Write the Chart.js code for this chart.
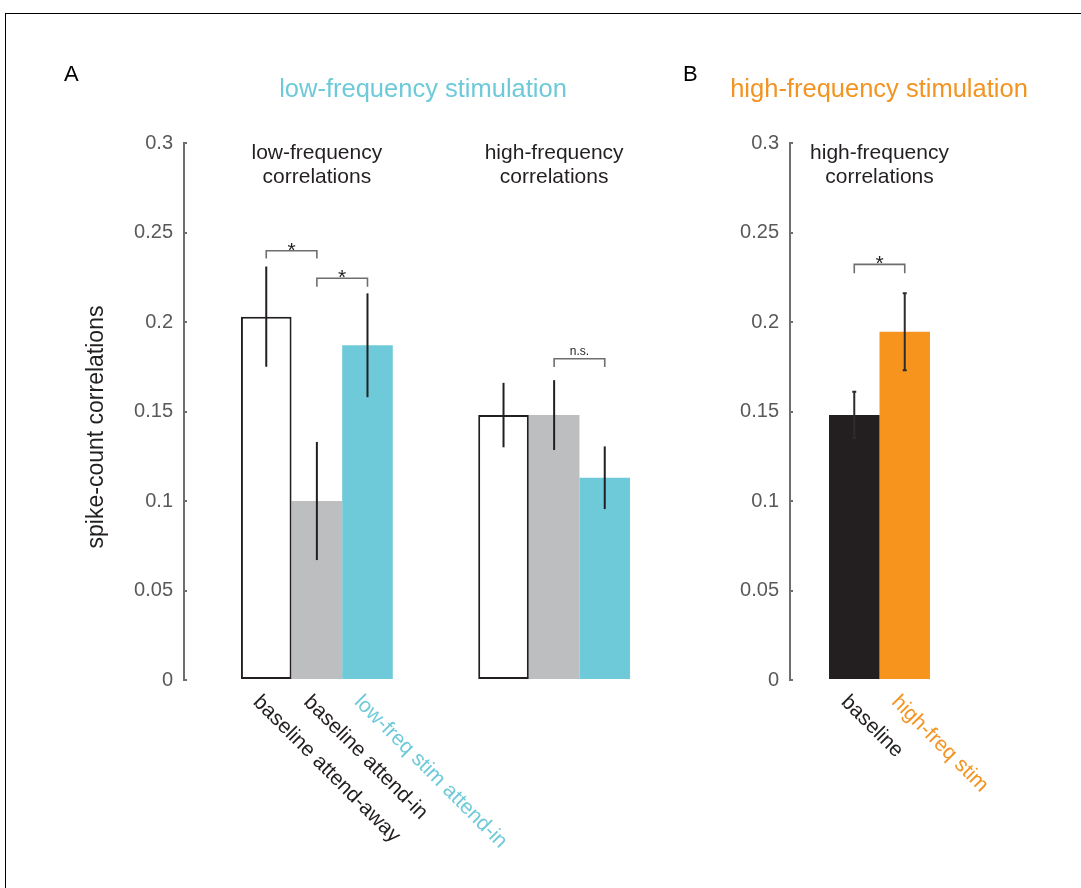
<!DOCTYPE html>
<html><head><meta charset="utf-8">
<script src="https://cdn.jsdelivr.net/npm/chart.js@4.4.0/dist/chart.umd.min.js"></script>
<style>
html,body{margin:0;padding:0;background:#fff;}
body{width:1081px;height:888px;position:relative;overflow:hidden;}
#frame{position:absolute;left:5px;top:13px;right:-2px;bottom:-2px;border-top:1px solid #000;border-left:1px solid #000;}
#ca{position:absolute;left:0;top:0;}
#cb{position:absolute;left:600px;top:0;}
</style></head><body>
<div id="frame"></div>
<canvas id="ca" width="687" height="888"></canvas>
<canvas id="cb" width="481" height="888"></canvas>
<script>
const FONT = '"Liberation Sans", Arial, Helvetica, sans-serif';
const INK = '#231F20';
const CYAN = '#6ECAD9';
const ORANGE = '#F39422';

// ---------- data ----------
const yTickLabels = ['0', '0.05', '0.1', '0.15', '0.2', '0.25', '0.3'];

// Panel A: low-frequency stimulation
const groupPositionsA = [1, 2];
const groupTitlesA = [['low-frequency', 'correlations'], ['high-frequency', 'correlations']];
const seriesNamesA = ['baseline attend-away', 'baseline attend-in', 'low-freq stim attend-in'];
const awayMeans = [0.203, 0.148];
const awayErr = [0.028, 0.018];
const attendInMeans = [0.100, 0.148];
const attendInErr = [0.033, 0.0195];
const stimMeans = [0.187, 0.113];
const stimErr = [0.029, 0.0175];
const sigA = [
  { from: 0, to: 1, group: 0, y: 0.2398, leg: 0.0043, text: '*' },
  { from: 1, to: 2, group: 0, y: 0.2244, leg: 0.0047, text: '*' },
  { from: 1, to: 2, group: 1, y: 0.1795, leg: 0.0046, text: 'n.s.' }
];

// Panel B: high-frequency stimulation
const groupLabelsB = ['high-frequency correlations'];
const groupTitlesB = [['high-frequency', 'correlations']];
const seriesNamesB = ['baseline', 'high-freq stim'];
const baselineMeansB = [0.148];
const baselineErrB = [0.013];
const hfStimMeansB = [0.1945];
const hfStimErrB = [0.0215];
const sigB = [
  { from: 0, to: 1, group: 0, y: 0.2322, leg: 0.005, text: '*' }
];

// ---------- helpers ----------
function annotPlugin(cfg) {
  return {
    id: 'annot',
    afterDatasetsDraw(chart) {
      const ctx = chart.ctx, ys = chart.scales.y;
      const val = v => (typeof v === 'object' ? v.y : v);
      ctx.save();
      // inward tick marks on the y axis
      ctx.strokeStyle = '#6D6E71';
      ctx.lineWidth = 2;
      ys.ticks.forEach(t => {
        const py = Math.round(ys.getPixelForValue(t.value));
        ctx.beginPath();
        ctx.moveTo(ys.right, py); ctx.lineTo(ys.right + 3, py);
        ctx.stroke();
      });
      // error bars
      chart.data.datasets.forEach((ds, i) => {
        const meta = chart.getDatasetMeta(i);
        meta.data.forEach((bar, j) => {
          const m = val(ds.data[j]), e = cfg.errors[i][j];
          const y1 = ys.getPixelForValue(m - e), y2 = ys.getPixelForValue(m + e);
          ctx.strokeStyle = cfg.errColor;
          ctx.lineWidth = 2;
          ctx.beginPath();
          ctx.moveTo(bar.x, y1); ctx.lineTo(bar.x, y2);
          if (cfg.cap) {
            ctx.moveTo(bar.x - cfg.cap, y1); ctx.lineTo(bar.x + cfg.cap, y1);
            ctx.moveTo(bar.x - cfg.cap, y2); ctx.lineTo(bar.x + cfg.cap, y2);
          }
          ctx.stroke();
        });
      });
      // significance brackets
      cfg.sig.forEach(s => {
        const xa = chart.getDatasetMeta(s.from).data[s.group].x;
        const xb = chart.getDatasetMeta(s.to).data[s.group].x;
        const yb = ys.getPixelForValue(s.y), yl = ys.getPixelForValue(s.y - s.leg);
        ctx.strokeStyle = '#6D6E71';
        ctx.lineWidth = 1.6;
        ctx.beginPath();
        ctx.moveTo(xa, yl); ctx.lineTo(xa, yb); ctx.lineTo(xb, yb); ctx.lineTo(xb, yl);
        ctx.stroke();
        ctx.fillStyle = INK;
        ctx.textAlign = 'center';
        ctx.textBaseline = 'alphabetic';
        if (s.text === '*') {
          ctx.font = '21px ' + FONT;
          ctx.fillText(s.text, (xa + xb) / 2, yb + 6);
        } else {
          ctx.font = '12px ' + FONT;
          ctx.fillText(s.text, (xa + xb) / 2, yb - 4);
        }
      });
      // group titles
      const n = chart.data.datasets.length;
      cfg.groupTitles.forEach((lines, g) => {
        const cx = (chart.getDatasetMeta(0).data[g].x + chart.getDatasetMeta(n - 1).data[g].x) / 2;
        ctx.fillStyle = INK;
        ctx.font = '21px ' + FONT;
        ctx.textAlign = 'center';
        ctx.textBaseline = 'alphabetic';
        lines.forEach((t, k) => ctx.fillText(t, cx, 159 + k * 24));
      });
      // rotated category labels under the first group
      chart.data.datasets.forEach((ds, i) => {
        const bar = chart.getDatasetMeta(i).data[0];
        ctx.save();
        ctx.translate(bar.x - 14, 703);
        ctx.rotate(Math.PI / 4);
        ctx.fillStyle = cfg.labelColors[i];
        ctx.font = '21px ' + FONT;
        ctx.textAlign = 'left';
        ctx.textBaseline = 'alphabetic';
        ctx.fillText(cfg.labels[i], 0, 0);
        ctx.restore();
      });
      // panel letter and heading
      ctx.fillStyle = '#000';
      ctx.font = '22px ' + FONT;
      ctx.textAlign = 'left';
      ctx.fillText(cfg.letter, cfg.letterX, 81);
      ctx.fillStyle = cfg.headingColor;
      ctx.font = '25.5px ' + FONT;
      ctx.textAlign = 'center';
      ctx.fillText(cfg.heading, cfg.headingX, 97);
      // y title
      if (cfg.yTitle) {
        ctx.save();
        ctx.translate(97, 427);
        ctx.rotate(-Math.PI / 2);
        ctx.fillStyle = INK;
        ctx.font = '23px ' + FONT;
        ctx.textAlign = 'center';
        ctx.textBaseline = 'middle';
        ctx.fillText(cfg.yTitle, 0, 0);
        ctx.restore();
      }
      ctx.restore();
    }
  };
}

function yScale(width) {
  return {
    min: 0, max: 0.3,
    afterFit: s => { s.width = width; },
    ticks: {
      stepSize: 0.05,
      color: '#58595B',
      font: { family: FONT, size: 20 },
      padding: 11,
      callback: (v, i) => yTickLabels[i]
    },
    grid: { display: true, drawOnChartArea: false, drawTicks: false, color: '#6D6E71', lineWidth: 2 },
    border: { display: true, color: '#6D6E71', width: 2 }
  };
}

Chart.defaults.font.family = FONT;

// ---------- Panel A ----------
const pts = arr => arr.map((v, i) => ({ x: groupPositionsA[i], y: v }));
new Chart(document.getElementById('ca'), {
  type: 'bar',
  data: {
    datasets: [
      { label: seriesNamesA[0], data: pts(awayMeans), backgroundColor: '#FFFFFF', borderColor: INK, borderWidth: 2, borderSkipped: false },
      { label: seriesNamesA[1], data: pts(attendInMeans), backgroundColor: '#BCBEC0', borderWidth: 0 },
      { label: seriesNamesA[2], data: pts(stimMeans), backgroundColor: CYAN, borderWidth: 0 }
    ]
  },
  options: {
    responsive: false, animation: false, devicePixelRatio: 1,
    layout: { padding: { top: 143, bottom: 208, left: 0, right: 0 } },
    datasets: { bar: { categoryPercentage: 0.64, barPercentage: 1 } },
    plugins: { legend: { display: false }, tooltip: { enabled: false } },
    scales: {
      x: { type: 'linear', min: 0.44, max: 2.56, display: false, afterBuildTicks: a => { a.ticks = []; } },
      y: yScale(184)
    }
  },
  plugins: [annotPlugin({
    errors: [awayErr, attendInErr, stimErr], errColor: INK, cap: 0,
    sig: sigA, groupTitles: groupTitlesA,
    labels: seriesNamesA, labelColors: [INK, INK, CYAN],
    letter: 'A', letterX: 64, heading: 'low-frequency stimulation', headingColor: CYAN, headingX: 423,
    yTitle: 'spike-count correlations'
  })]
});

// ---------- Panel B ----------
new Chart(document.getElementById('cb'), {
  type: 'bar',
  data: {
    labels: groupLabelsB,
    datasets: [
      { label: seriesNamesB[0], data: baselineMeansB, backgroundColor: INK, borderWidth: 0 },
      { label: seriesNamesB[1], data: hfStimMeansB, backgroundColor: '#F7941E', borderWidth: 0 }
    ]
  },
  options: {
    responsive: false, animation: false, devicePixelRatio: 1,
    layout: { padding: { top: 143, bottom: 208, left: 0, right: 112 } },
    datasets: { bar: { categoryPercentage: 0.564, barPercentage: 1 } },
    plugins: { legend: { display: false }, tooltip: { enabled: false } },
    scales: {
      x: { display: false },
      y: yScale(190)
    }
  },
  plugins: [annotPlugin({
    errors: [baselineErrB, hfStimErrB], errColor: '#2E2B2C', cap: 2,
    sig: sigB, groupTitles: groupTitlesB,
    labels: seriesNamesB, labelColors: [INK, ORANGE],
    letter: 'B', letterX: 83, heading: 'high-frequency stimulation', headingColor: ORANGE, headingX: 279,
    yTitle: null
  })]
});
</script>
</body></html>
